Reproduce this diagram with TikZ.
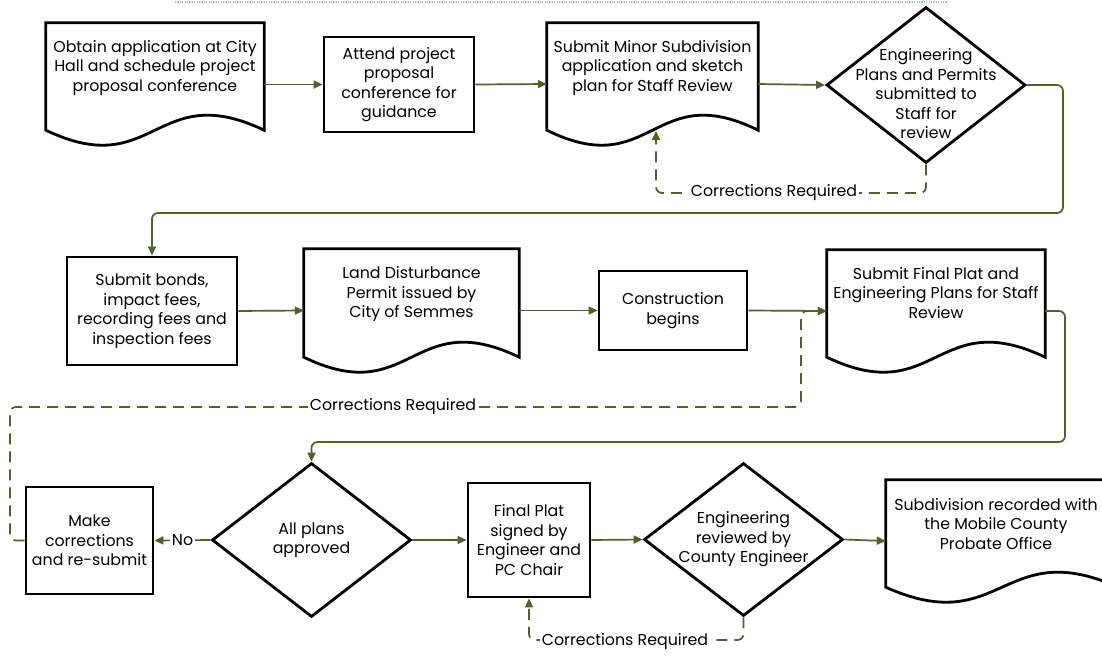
\documentclass[tikz,border=0pt]{standalone}
\usepackage{fontspec}
\setmainfont{Poppins}
\usetikzlibrary{arrows.meta,shapes.geometric,calc}
\definecolor{flowgreen}{RGB}{79,98,40}
\definecolor{selblue}{RGB}{165,190,232}
\newcommand\flowfont{\fontsize{15.8}{19.5}\selectfont}
\begin{document}
\begin{tikzpicture}[x=1pt,y=-1pt,
  procbox/.style={draw=black, line width=2.8pt, rectangle, inner sep=0pt, align=center, font=\flowfont},
  docbox/.style={draw=none, rectangle, inner sep=0pt},
  decbox/.style={draw=black, line width=2.8pt, diamond, inner sep=0pt},
  txt/.style={align=center, font=\flowfont, inner sep=0pt},
  lbl/.style={font=\flowfont, fill=white, inner sep=1.5pt},
  flow/.style={draw=flowgreen, line width=1.7pt, -{Triangle[length=9pt,width=8pt]}},
  dashflow/.style={flow, dash pattern=on 11pt off 7pt},
  docline/.style={draw=black, line width=2.8pt}
]
\useasboundingbox (0,0) rectangle (1102,656);
\fill[white] (0,0) rectangle (1102,656);
\draw[selblue, line width=2pt, dash pattern=on 1.2pt off 1.2pt] (175,1.5) -- (947,1.5);

% ---------- row 1
\node[docbox, minimum width=218pt, minimum height=122pt] (n1) at (155,84) {};
\node[procbox, minimum width=150pt, minimum height=95pt] (n2) at (399,84.5) {Attend project\\proposal\\conference for\\guidance};
\node[docbox, minimum width=211pt, minimum height=122pt] (n3) at (652.5,84) {};
\node[decbox, minimum width=199pt, minimum height=156pt] (n4) at (926,85) {};

% ---------- row 2
\node[procbox, minimum width=170pt, minimum height=108pt] (n5) at (152,311) {Submit bonds,\\impact fees,\\recording fees and\\inspection fees};
\node[docbox, minimum width=215pt, minimum height=123pt] (n6) at (411.5,310.5) {};
\node[procbox, minimum width=148pt, minimum height=79pt] (n7) at (673,310.5) {Construction\\begins};
\node[docbox, minimum width=218pt, minimum height=122pt] (n8) at (936,311) {};

% ---------- row 3
\node[procbox, minimum width=127pt, minimum height=107pt] (n9) at (89.5,540.5) {Make\\corrections\\and re-submit};
\node[decbox, minimum width=199pt, minimum height=154pt] (n10) at (311.5,540) {};
\node[procbox, minimum width=122pt, minimum height=114pt] (n11) at (529,540) {Final Plat\\signed by\\Engineer and\\PC Chair};
\node[decbox, minimum width=199pt, minimum height=153pt] (n12) at (743.5,539.5) {};
\node[docbox, minimum width=232pt, minimum height=122pt] (n13) at (1002,541) {};

% ---------- document outlines
\foreach \n in {n1,n3,n6,n8,n13}{
  \draw[docline] (\n.north west) -- (\n.north east) -- ([yshift=15pt]\n.south east)
    .. controls ([yshift=67pt]\n.south) and ([yshift=-37pt]\n.south) .. ([yshift=15pt]\n.south west) -- cycle;
}

% ---------- texts of documents and decisions
\node[txt] (t1) at ([yshift=16pt]n1.center) {Obtain application at City\\Hall and schedule project\\proposal conference};
\node[txt] (t3) at ([yshift=16pt]n3.center) {Submit Minor Subdivision\\application and sketch\\plan for Staff Review};
\node[txt] (t4) at ([yshift=-9pt]n4.center) {Engineering\\Plans and Permits\\submitted to\\Staff for\\review};
\node[txt] (t6) at ([yshift=16pt]n6.center) {Land Disturbance\\Permit issued by\\City of Semmes};
\node[txt] (t8) at ([yshift=18pt]n8.center) {Submit Final Plat and\\Engineering Plans for Staff\\Review};
\node[txt] (t10) at (n10.center) {All plans\\approved};
\node[txt] (t12) at (n12.center) {Engineering\\reviewed by\\County Engineer};
\node[txt] (t13) at ([xshift=-6pt,yshift=17pt]n13.center) {Subdivision recorded with\\the Mobile County\\Probate Office};

% ---------- helper coordinates
\coordinate (c1) at (1063,213);
\coordinate (c2) at (1065,442);
\coordinate (c3) at (10,407);
\coordinate (c4) at (801,311);
\coordinate (c5) at (529,640);
\coordinate (c6) at (656,193);
\coordinate (c7) at (656,131);

% ---------- connectors
\draw[flow] (n1.east |- n2.west) -- (n2.west);
\draw[flow] (n2.east) -- (n3.west);
\draw[flow] (n3.east) -- (n4.west);
\draw[flow, rounded corners=6pt] (n4.east) -| (c1) -| (n5.north);
\draw[dashflow, rounded corners=6pt] (n4.south) |- (c6) -- (c7);
\node[lbl] (l1) at (774,193) {Corrections Required};

\draw[flow] (n5.east) -- (n6.west);
\draw[flow] (n6.east) -- (n7.west);
\draw[flow] (n7.east) -- (n8.west);
\draw[flow, rounded corners=6pt] (n8.east) -| (c2) -| (n10.north);
\draw[dashflow, rounded corners=6pt] (n9.west) -| (c3) -| (c4) -- (n8.west);
\node[lbl] (l2) at (393,407) {Corrections Required};

\draw[flow] (n10.west) -- node[lbl] (no) {No} (n9.east);
\draw[flow] (n10.east) -- (n11.west);
\draw[flow] (n11.east) -- (n12.west);
\draw[flow] (n12.east) -- (n13.west);
\draw[dashflow, rounded corners=6pt] (n12.south) |- (c5) -- (n11.south);
\node[lbl] (l3) at (625,642) {Corrections Required};
\end{tikzpicture}
\end{document}
